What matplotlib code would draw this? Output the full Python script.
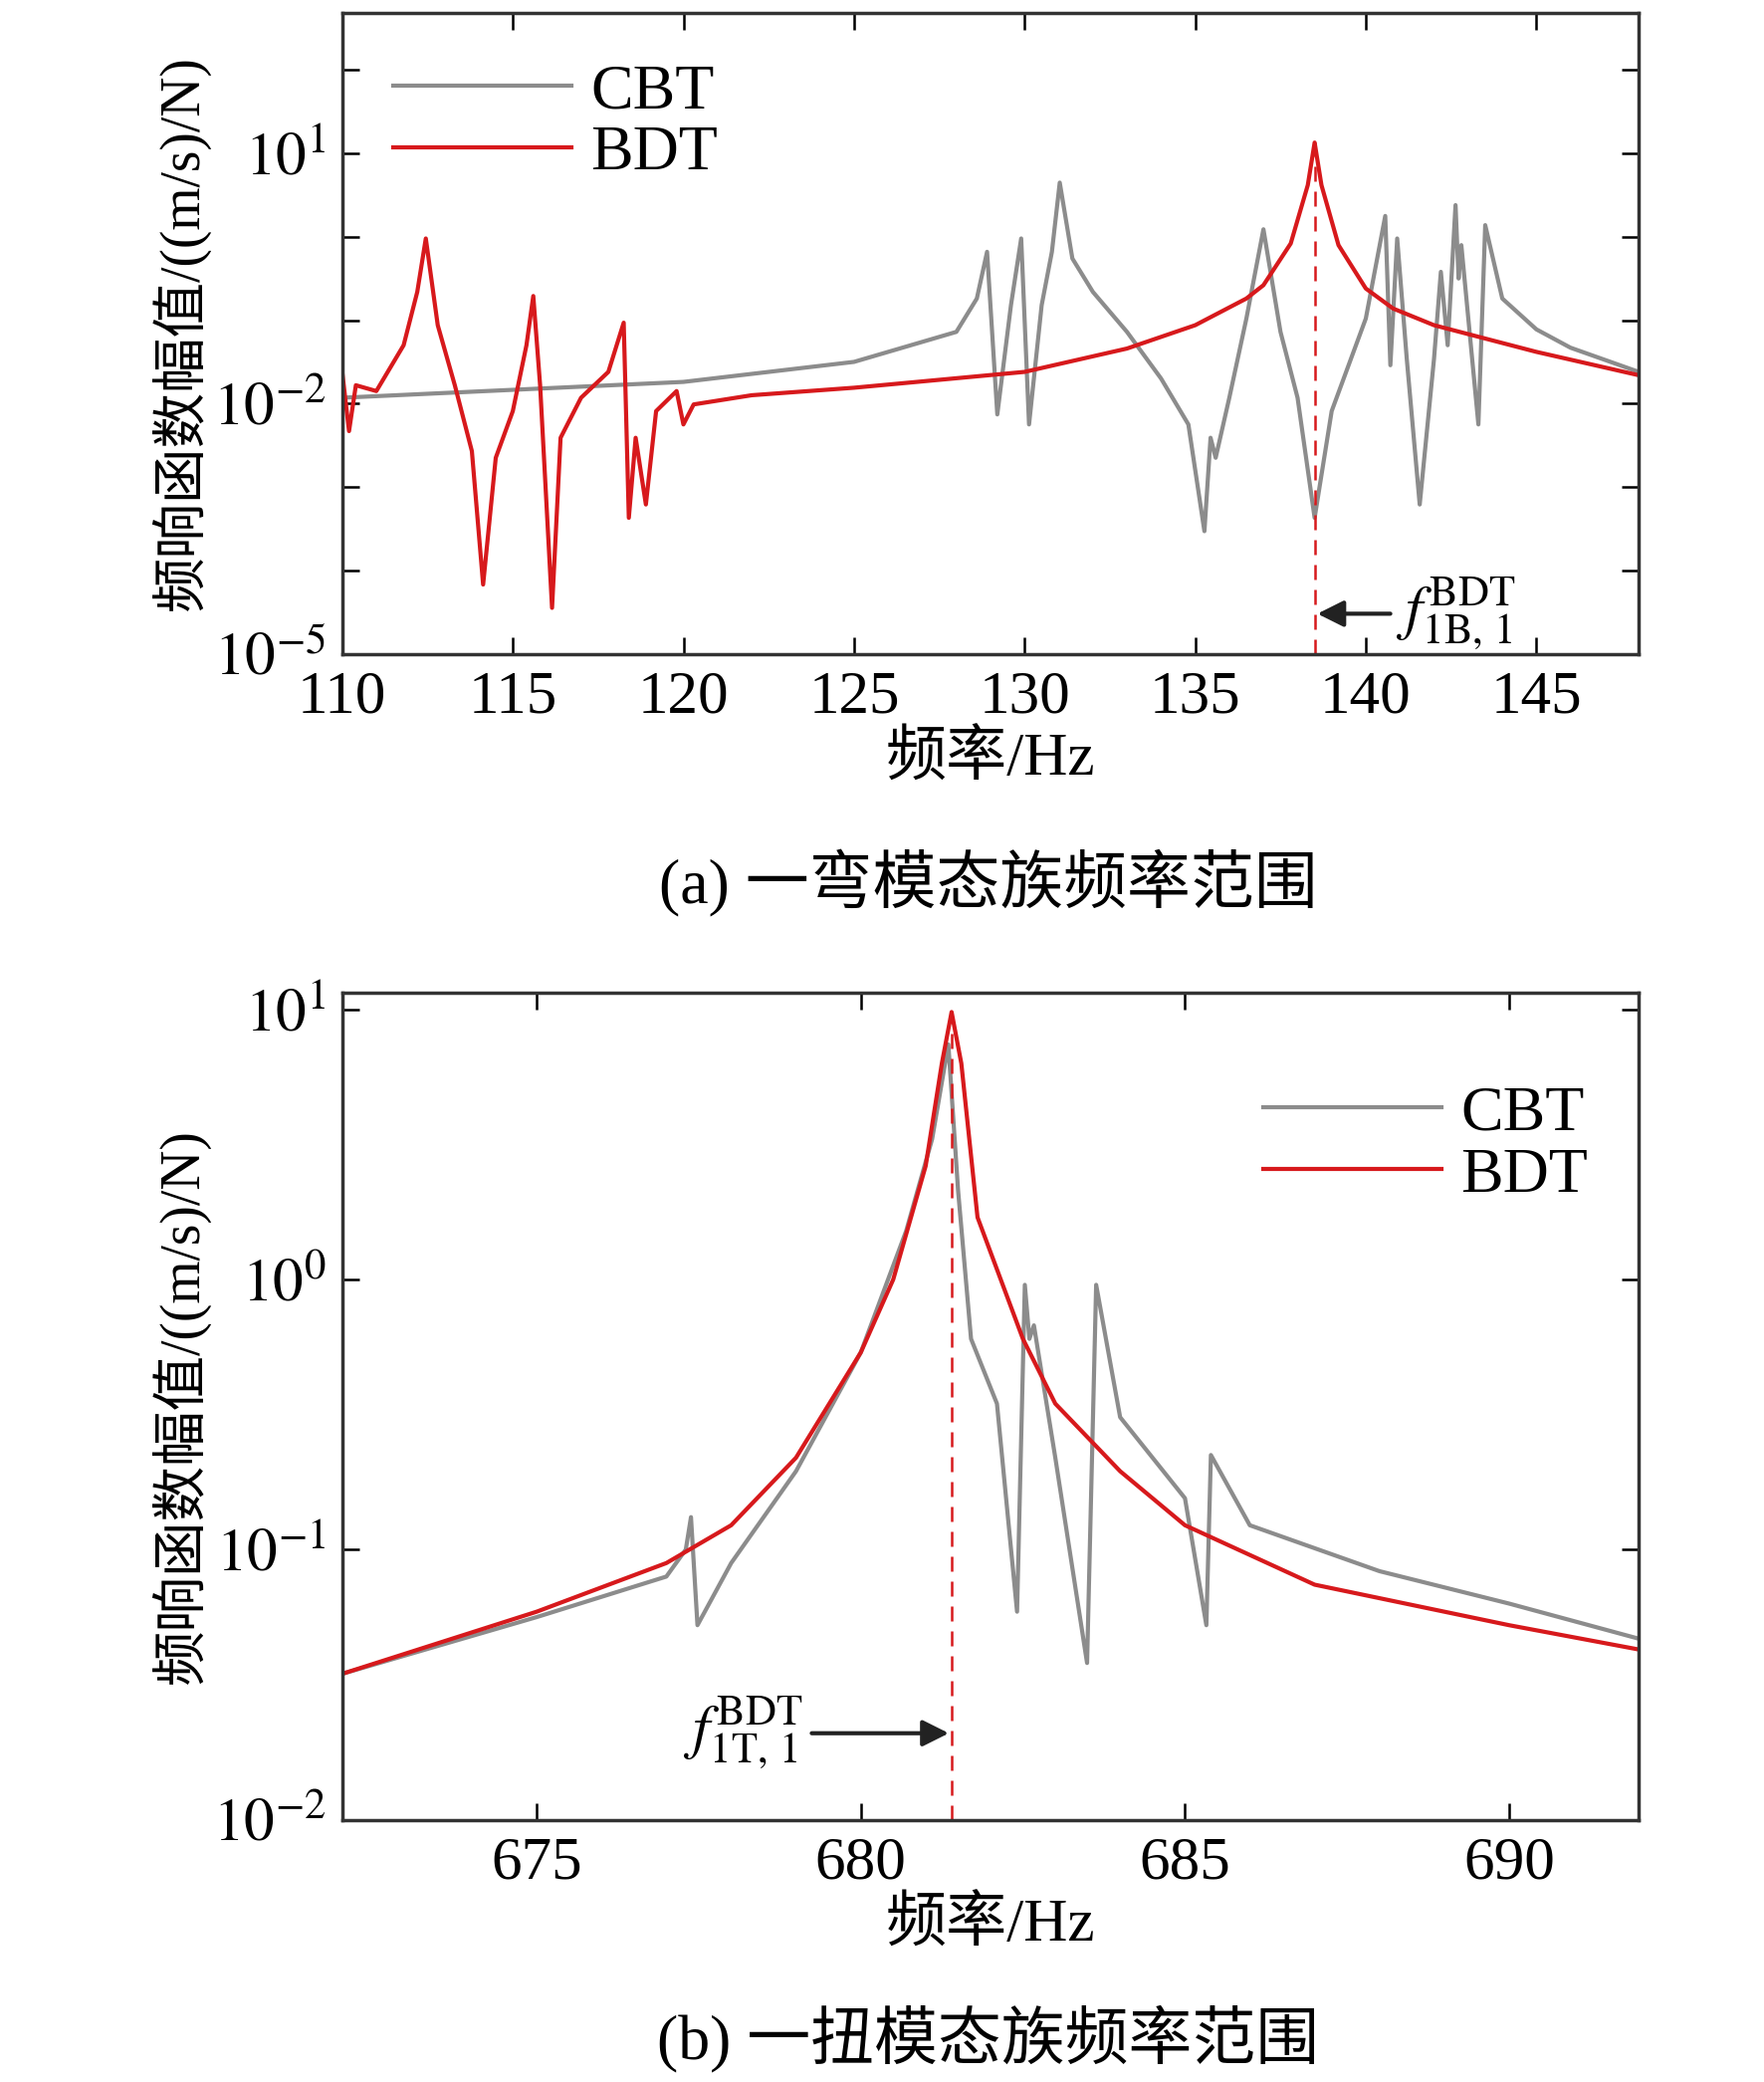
import numpy as np
import matplotlib
matplotlib.use('Agg')
import matplotlib.pyplot as plt
from matplotlib.ticker import FixedLocator, NullLocator, FuncFormatter

plt.rcParams['font.family'] = ['Liberation Serif', 'Noto Sans CJK SC']
plt.rcParams['mathtext.fontset'] = 'stix'

# ── DATA (log10 amplitude) ───────────────────────────────────────────────────
f_cbt_a = [110, 120, 125, 128, 128.6, 128.9, 129.2, 129.6, 129.9, 130.13, 130.5, 130.8,
           131.03, 131.4, 132, 133, 134, 134.8, 135.27, 135.45, 135.6, 136, 136.5, 137.0,
           137.5, 138, 138.5, 139, 140, 140.57, 140.72, 140.92, 141.2, 141.58, 142, 142.2,
           142.4, 142.63, 142.72, 142.8, 143.3, 143.5, 144, 145, 146, 148]
l_cbt_a = [-1.93, -1.74, -1.50, -1.14, -0.74, -0.18, -2.13, -0.82, -0.02, -2.25, -0.82, -0.18,
           0.65, -0.26, -0.66, -1.14, -1.70, -2.25, -3.53, -2.41, -2.65, -1.93, -0.98, 0.09,
           -1.14, -1.93, -3.37, -2.09, -0.98, 0.25, -1.54, -0.02, -1.46, -3.21, -1.46, -0.42,
           -1.30, 0.38, -0.50, -0.10, -2.25, 0.14, -0.74, -1.11, -1.33, -1.62]
f_bdt_a = [110, 110.2, 110.4, 111, 111.8, 112.2, 112.45, 112.8, 113.3, 113.8, 114.13, 114.5,
           115, 115.4, 115.6, 115.8, 116.15, 116.4, 117, 117.8, 118.25, 118.4, 118.6, 118.9,
           119.2, 119.8, 120, 120.3, 122, 125, 130, 133, 135, 136.5, 137.0, 137.8, 138.3, 138.5,
           138.7, 139.2, 140.0, 140.8, 142, 145, 148]
l_bdt_a = [-1.62, -2.33, -1.78, -1.85, -1.30, -0.66, -0.02, -1.06, -1.78, -2.57, -4.17, -2.65,
           -2.09, -1.30, -0.71, -1.78, -4.45, -2.41, -1.93, -1.62, -1.03, -3.37, -2.41, -3.21,
           -2.09, -1.85, -2.25, -2.01, -1.90, -1.81, -1.62, -1.34, -1.06, -0.74, -0.58, -0.08, 0.62,
           1.13, 0.62, -0.10, -0.62, -0.86, -1.06, -1.38, -1.66]

f_cbt_b = [672, 675, 677, 677.3, 677.38, 677.48, 678, 679, 680, 680.7, 681.1, 681.35, 681.5,
           681.7, 682.1, 682.41, 682.53, 682.6, 682.67, 683.0, 683.49, 683.63, 684, 685,
           685.33, 685.4, 686, 688, 690, 692]
l_cbt_b = [-1.46, -1.25, -1.10, -1.00, -0.88, -1.28, -1.05, -0.71, -0.27, 0.18, 0.52, 0.87, 0.33,
           -0.22, -0.46, -1.23, -0.02, -0.22, -0.17, -0.66, -1.42, -0.02, -0.51, -0.81,
           -1.28, -0.65, -0.91, -1.08, -1.20, -1.33]
f_bdt_b = [672, 675, 677, 678, 679, 680, 680.5, 681.0, 681.25, 681.4, 681.55, 681.8, 682.5,
           683, 684, 685, 687, 690, 692]
l_bdt_b = [-1.46, -1.23, -1.05, -0.91, -0.66, -0.27, 0.0, 0.42, 0.80, 0.99, 0.80, 0.23, -0.22,
           -0.46, -0.71, -0.91, -1.13, -1.28, -1.37]

GRAY = '#8c8c8c'
RED = '#d7191c'


def pow_fmt(v):
    e = int(round(np.log10(v)))
    return r'$10^{%d}$' % e if e >= 0 else r'$10^{-%d}$' % (-e)


def style(ax, labeled, allticks):
    ax.set_yscale('log')
    ax.yaxis.set_major_locator(FixedLocator(allticks))
    ax.yaxis.set_minor_locator(NullLocator())
    ax.yaxis.set_major_formatter(FuncFormatter(
        lambda v, p: pow_fmt(v) if any(abs(v - t) < 1e-9 * t for t in labeled) else ''))
    ax.tick_params(which='both', direction='in', top=True, right=True, labelsize=44,
                   length=12, width=1.8, pad=12)
    for s in ax.spines.values():
        s.set_linewidth(2.5)
        s.set_color('#333333')
    ax.set_xlabel('频率/Hz', fontsize=44, labelpad=4)
    ax.set_ylabel('频响函数幅值/((m/s)/N)', fontsize=40, labelpad=2)


fig = plt.figure(figsize=(17.72, 20.91), dpi=100)

# ── PANEL A ──────────────────────────────────────────────────────────────────
ax1 = fig.add_axes([0.194, 0.686, 0.735, 0.308])
ax1.plot(f_cbt_a, 10 ** np.array(l_cbt_a), color=GRAY, lw=3, label='CBT')
ax1.plot(f_bdt_a, 10 ** np.array(l_bdt_a), color=RED, lw=3, label='BDT')
ax1.set_xlim(110, 148)
ax1.set_ylim(1e-5, 10 ** 2.69)
ax1.set_xticks(np.arange(110, 146, 5))
style(ax1, [1e1, 1e-2, 1e-5], [10.0 ** e for e in range(-5, 3)])
ax1.vlines(138.5, 1e-5, 10 ** 1.13, colors=RED, linestyles=(0, (6, 4)), lw=1.8)
ax1.annotate('', xy=(138.5, 10 ** -4.52), xytext=(140.8, 10 ** -4.52),
             arrowprops=dict(arrowstyle='-|>', color='#222222', lw=3, mutation_scale=40))
ax1.text(140.9, 10 ** -4.52, r'$f^{\rm BDT}_{\rm 1B,\,1}$', fontsize=44, va='center')
ax1.legend(loc='upper left', fontsize=46, frameon=False, handlelength=2.8,
           borderaxespad=0.4, labelspacing=0.05, handletextpad=0.3)
fig.text(0.56, 0.576, '(a) 一弯模态族频率范围', fontsize=46, ha='center', va='center')

# ── PANEL B ──────────────────────────────────────────────────────────────────
ax2 = fig.add_axes([0.194, 0.126, 0.735, 0.397])
ax2.plot(f_cbt_b, 10 ** np.array(l_cbt_b), color=GRAY, lw=3, label='CBT')
ax2.plot(f_bdt_b, 10 ** np.array(l_bdt_b), color=RED, lw=3, label='BDT')
ax2.set_xlim(672, 692)
ax2.set_ylim(1e-2, 10 ** 1.06)
ax2.set_xticks(np.arange(675, 691, 5))
style(ax2, [1e1, 1e0, 1e-1, 1e-2], [1e1, 1e0, 1e-1, 1e-2])
ax2.vlines(681.4, 1e-2, 10 ** 0.99, colors=RED, linestyles=(0, (6, 4)), lw=1.8)
ax2.annotate('', xy=(681.4, 10 ** -1.68), xytext=(679.2, 10 ** -1.68),
             arrowprops=dict(arrowstyle='-|>', color='#222222', lw=3, mutation_scale=40))
ax2.text(679.1, 10 ** -1.68, r'$f^{\rm BDT}_{\rm 1T,\,1}$', fontsize=44, va='center', ha='right')
ax2.legend(loc='upper right', fontsize=46, frameon=False, handlelength=2.8,
           borderaxespad=0.4, labelspacing=0.05, handletextpad=0.3,
           bbox_to_anchor=(1.0, 0.95))
fig.text(0.56, 0.021, '(b) 一扭模态族频率范围', fontsize=46, ha='center', va='center')

fig.savefig('out.png', dpi=100)
